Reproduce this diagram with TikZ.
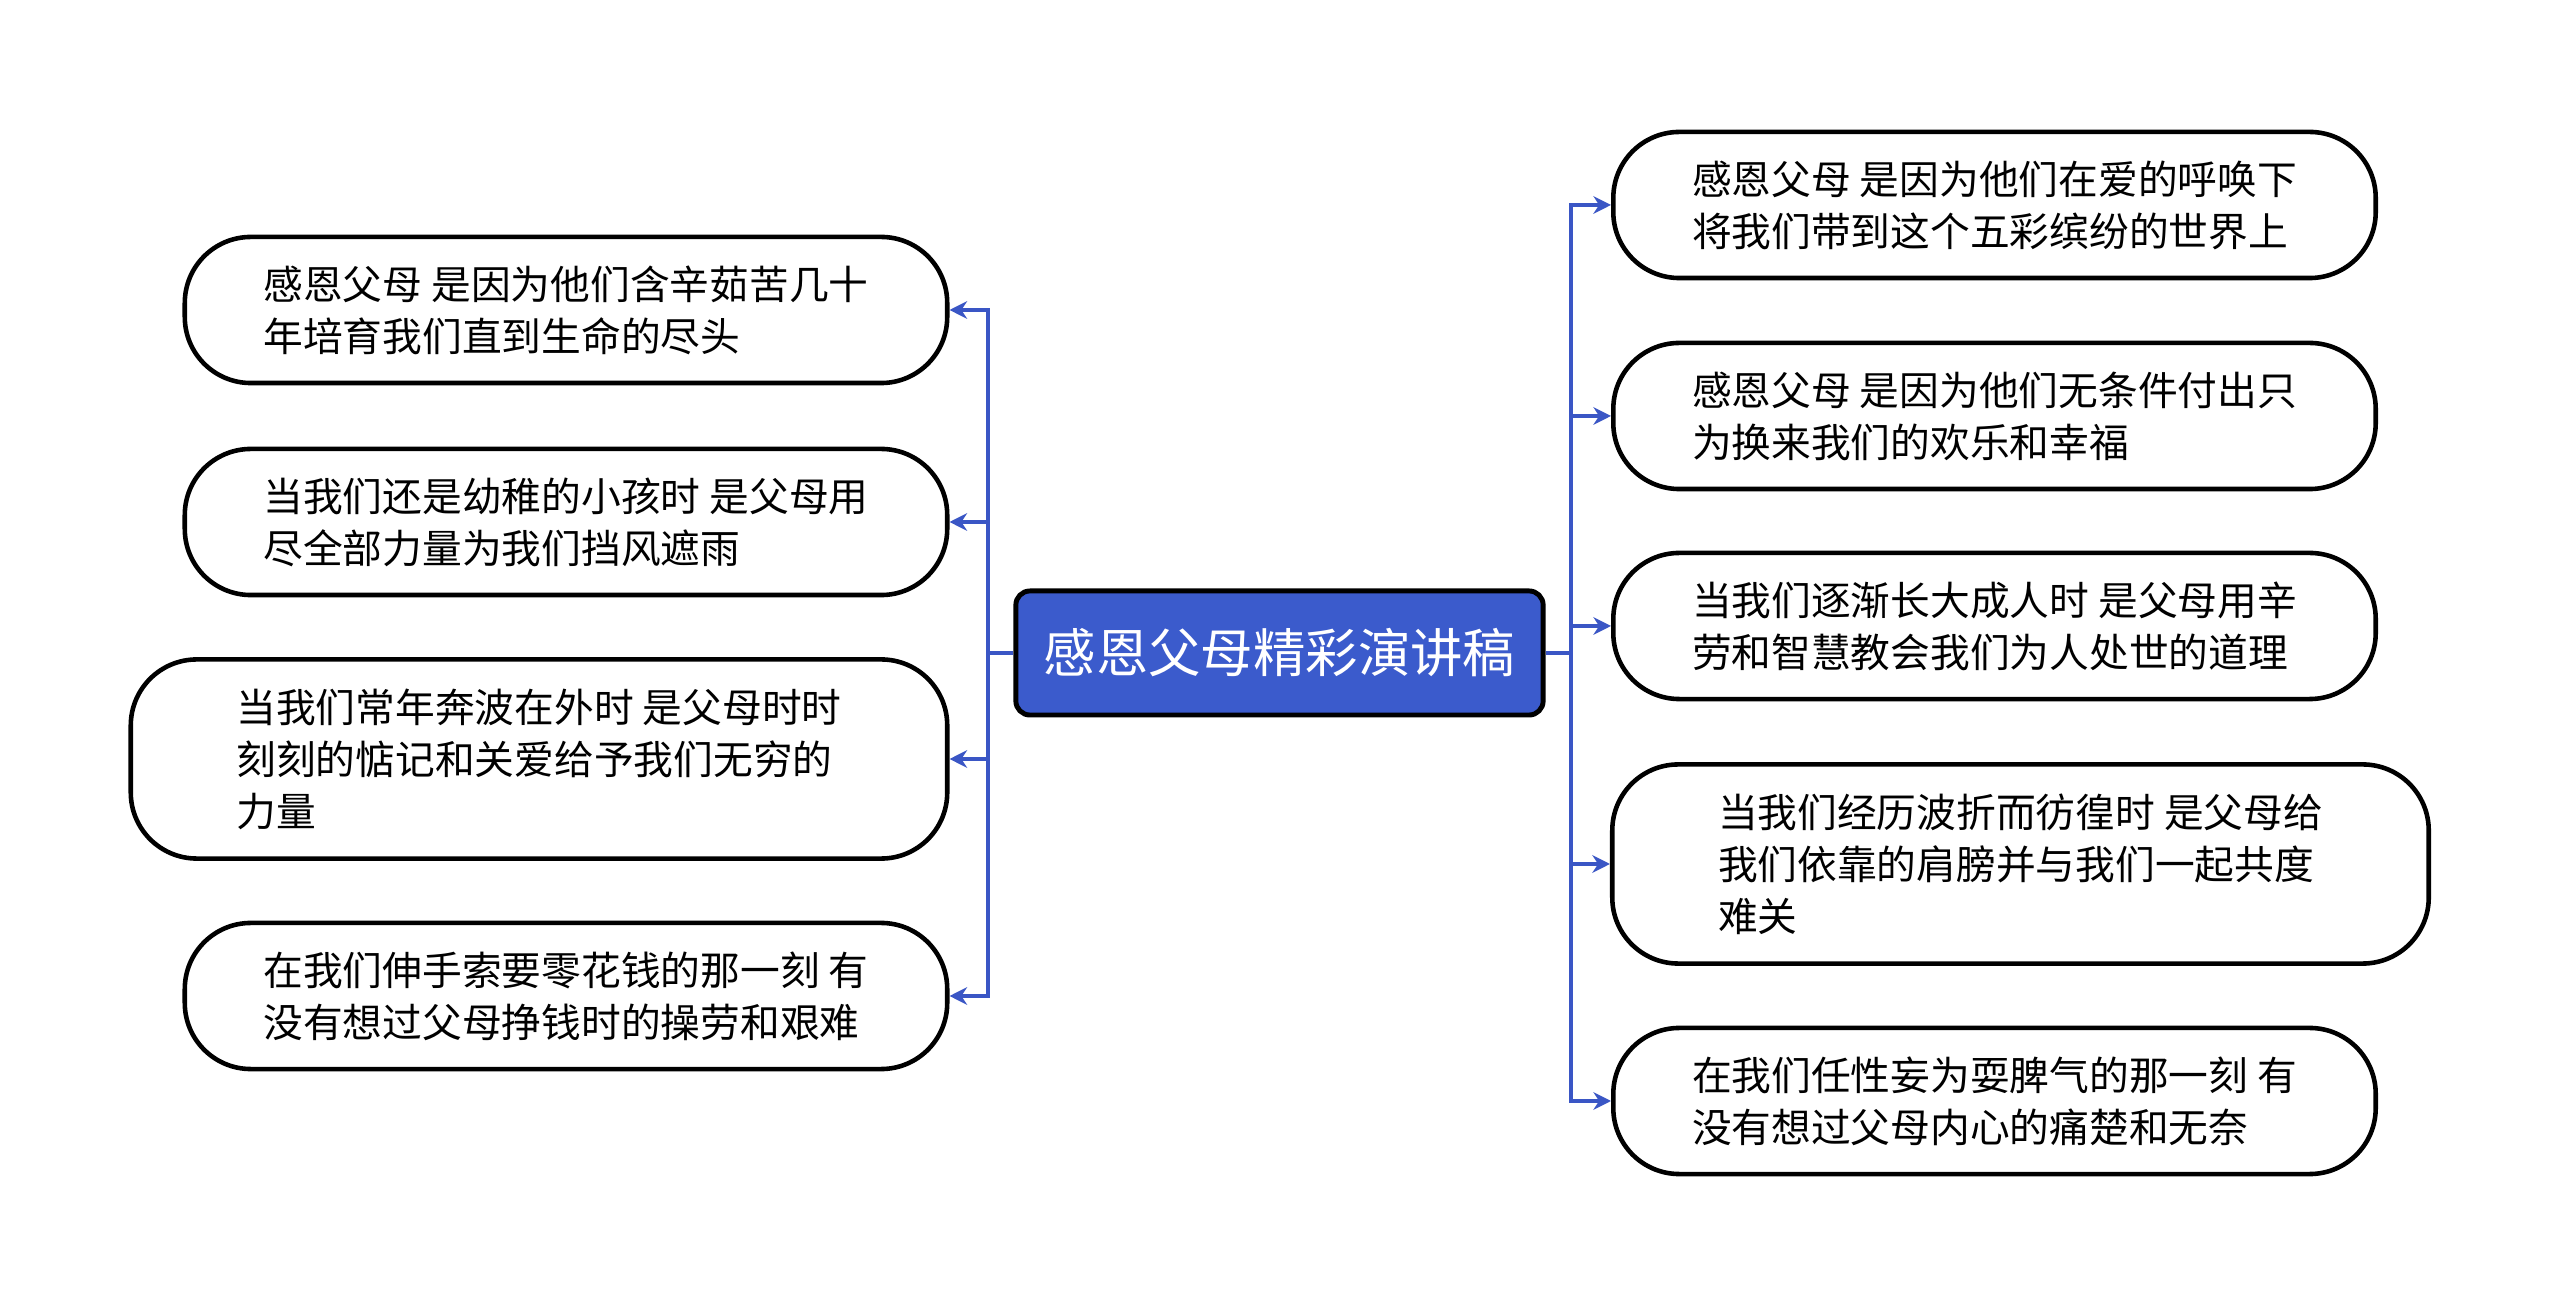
\documentclass[tikz,border=0pt]{standalone}
\usepackage{fontspec}
\newfontfamily\cjk{Noto Sans CJK SC}
\usetikzlibrary{arrows.meta,positioning,calc}
\definecolor{topicblue}{RGB}{59,91,204}
\definecolor{linkblue}{RGB}{58,86,197}

\begin{document}
\begin{tikzpicture}[x=0.01cm, y=-0.01cm,
    topic/.style={draw=black, line width=1.4pt, fill=topicblue, rounded corners=4pt,
      minimum width=5.27cm, minimum height=1.24cm, text=white, inner sep=2pt,
      font=\cjk\fontsize{14.9}{18}\selectfont},
    leaf/.style={draw=black, line width=1.3pt, fill=white, rounded corners=0.66cm,
      minimum width=7.62cm, minimum height=1.46cm, align=left,
      font=\cjk\fontsize{11.3}{14.8}\selectfont},
    wideleaf/.style={leaf, minimum width=8.16cm, minimum height=1.99cm},
    link/.style={linkblue, line width=1.1pt, -{Stealth[length=5pt,width=5pt]}}]
    \useasboundingbox (0,0) rectangle (2560,1307);

    % Central topic
    \node[topic] (title) at (1279.5,653) {感恩父母精彩演讲稿};

    % Left branches
    \node[leaf] (l1) at (566,310) {感恩父母 是因为他们含辛茹苦几十\\年培育我们直到生命的尽头};
    \node[leaf] (l2) at (566,522) {当我们还是幼稚的小孩时 是父母用\\尽全部力量为我们挡风遮雨};
    \node[wideleaf] (l3) at (539,759) {当我们常年奔波在外时 是父母时时\\刻刻的惦记和关爱给予我们无穷的\\力量};
    \node[leaf] (l4) at (566,996) {在我们伸手索要零花钱的那一刻 有\\没有想过父母挣钱时的操劳和艰难};

    % Right branches
    \node[leaf] (r1) at (1994.5,205) {感恩父母 是因为他们在爱的呼唤下\\将我们带到这个五彩缤纷的世界上};
    \node[leaf] (r2) at (1994.5,416) {感恩父母 是因为他们无条件付出只\\为换来我们的欢乐和幸福};
    \node[leaf] (r3) at (1994.5,626) {当我们逐渐长大成人时 是父母用辛\\劳和智慧教会我们为人处世的道理};
    \node[wideleaf] (r4) at (2020.5,864) {当我们经历波折而彷徨时 是父母给\\我们依靠的肩膀并与我们一起共度\\难关};
    \node[leaf] (r5) at (1994.5,1101) {在我们任性妄为耍脾气的那一刻 有\\没有想过父母内心的痛楚和无奈};

    % Connectors
    \foreach \n in {l1,l2,l3,l4}
        \draw[link] (title.west) -- ++(-25,0) |- (\n.east);
    \foreach \n in {r1,r2,r3,r4,r5}
        \draw[link] (title.east) -- ++(25,0) |- (\n.west);
\end{tikzpicture}
\end{document}
